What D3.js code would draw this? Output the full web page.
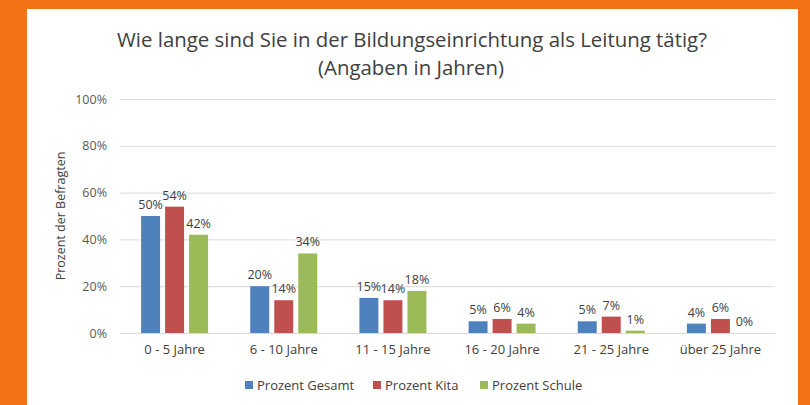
<!DOCTYPE html>
<html><head><meta charset="utf-8">
<script src="https://cdn.jsdelivr.net/npm/d3@7"></script>
<style>html,body{margin:0;padding:0;background:#f47216;}svg{display:block;}</style>
</head><body>
<svg id="c" width="810" height="405"></svg>
<script>
const categories = ["0 - 5 Jahre","6 - 10 Jahre","11 - 15 Jahre","16 - 20 Jahre","21 - 25 Jahre","über 25 Jahre"];
const seriesNames = ["Prozent Gesamt","Prozent Kita","Prozent Schule"];
const gesamt = [50,20,15,5,5,4];
const kita = [54,14,14,6,7,6];
const schule = [42,34,18,4,1,0];
const yTicks = [0,20,40,60,80,100];
const colors = ["#4f81bd","#c0504d","#9bbb59"];
const series = [gesamt,kita,schule];

const svg = d3.select("#c");
const font = "'Open Sans', 'Noto Sans', sans-serif";
svg.append("rect").attr("x",0).attr("y",0).attr("width",810).attr("height",405).attr("fill","#f47216");
svg.append("rect").attr("x",27).attr("y",9).attr("width",771).attr("height",396).attr("fill","#ffffff");

svg.append("text").attr("x",412).attr("y",47).attr("text-anchor","middle")
  .attr("font-family",font).attr("font-size",20).attr("fill","#404040")
  .attr("textLength",590).attr("lengthAdjust","spacingAndGlyphs")
  .text("Wie lange sind Sie in der Bildungseinrichtung als Leitung tätig?");
svg.append("text").attr("x",411).attr("y",75).attr("text-anchor","middle")
  .attr("font-family",font).attr("font-size",20).attr("fill","#404040")
  .attr("textLength",186).attr("lengthAdjust","spacingAndGlyphs")
  .text("(Angaben in Jahren)");

const x0 = d3.scaleBand().domain(categories).range([120,775]);
const x1 = d3.scaleBand().domain(seriesNames).range([0,67]).paddingInner(0.21);
const y = d3.scaleLinear().domain([0,100]).range([333,99]);

const yAxis = d3.axisLeft(y).tickValues(yTicks).tickFormat(d=>d+"%").tickSize(-(775-120)).tickPadding(13);
const gy = svg.append("g").attr("transform","translate(120,0)").call(yAxis);
gy.select(".domain").remove();
gy.selectAll(".tick line").attr("stroke","#d9d9d9").attr("stroke-width",1);
gy.selectAll(".tick text").attr("font-family",font).attr("font-size",12.5).attr("fill","#595959");

const xAxis = d3.axisBottom(x0).tickSize(0).tickPadding(12);
const gx = svg.append("g").attr("transform","translate(0,333)").call(xAxis);
gx.select(".domain").attr("stroke","#d9d9d9");
gx.selectAll(".tick text").attr("font-family",font).attr("font-size",13).attr("fill","#404040");

svg.append("text").attr("transform","translate(65,216) rotate(-90)").attr("text-anchor","middle")
  .attr("font-family",font).attr("font-size",12.5).attr("fill","#404040").text("Prozent der Befragten");

seriesNames.forEach((s,si)=>{
  const g = svg.append("g");
  const off = x0.bandwidth()/2 - 33.5;
  g.selectAll("rect").data(series[si]).join("rect")
    .attr("x",(d,i)=>x0(categories[i])+off+x1(s))
    .attr("y",d=>y(d)).attr("width",x1.bandwidth()).attr("height",d=>y(0)-y(d))
    .attr("fill",colors[si]);
  g.selectAll("text").data(series[si]).join("text")
    .attr("x",(d,i)=>x0(categories[i])+off+x1(s)+x1.bandwidth()/2)
    .attr("y",d=>y(d)-7).attr("text-anchor","middle")
    .attr("font-family",font).attr("font-size",12.5).attr("fill","#404040")
    .text(d=>d+"%");
});

const legendX = [245,373,480];
const lg = svg.append("g");
seriesNames.forEach((s,i)=>{
  lg.append("rect").attr("x",legendX[i]).attr("y",381).attr("width",8).attr("height",8).attr("fill",colors[i]);
  lg.append("text").attr("x",legendX[i]+12).attr("y",389.5).attr("font-family",font).attr("font-size",13)
    .attr("fill","#404040").text(s);
});
</script>
</body></html>
